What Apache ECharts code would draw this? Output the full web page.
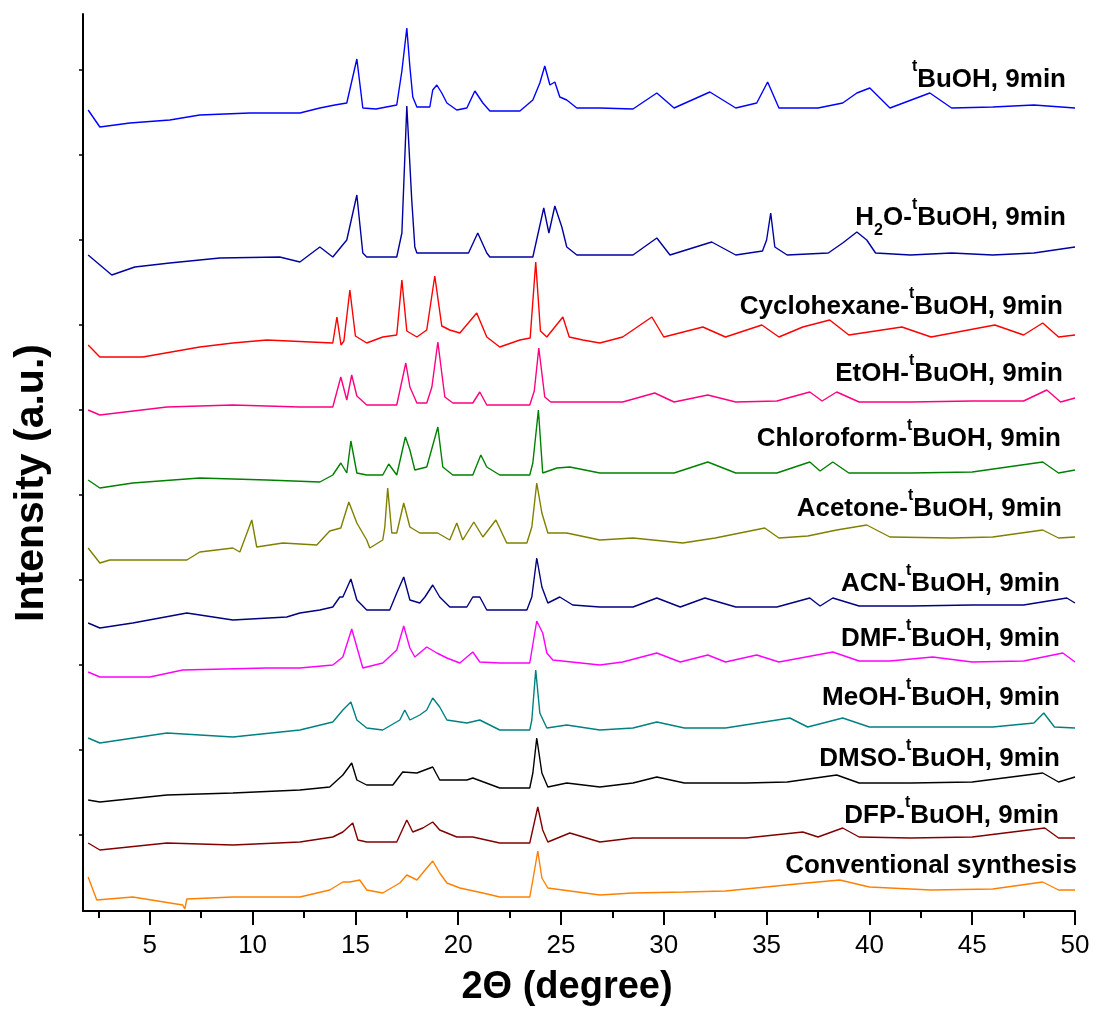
<!DOCTYPE html>
<html>
<head>
<meta charset="utf-8">
<title>XRD patterns</title>
<script src="https://cdn.jsdelivr.net/npm/echarts@6/dist/echarts.min.js"></script>
<style>
  html, body { margin: 0; padding: 0; background: #fff; }
  #chart { width: 1093px; height: 1015px; }
</style>
</head>
<body>
<div id="chart"></div>
<script>
const FONT = 'Arial, "Liberation Sans", sans-serif';

// samples, top to bottom
const sampleNames = ['tBuOH', 'H2O-tBuOH', 'Cyclohexane-tBuOH', 'EtOH-tBuOH', 'Chloroform-tBuOH',
    'Acetone-tBuOH', 'ACN-tBuOH', 'DMF-tBuOH', 'MeOH-tBuOH', 'DMSO-tBuOH', 'DFP-tBuOH', 'Conventional'];
const sampleLabels = ['{sup|t}BuOH, 9min', 'H{sub|2}O-{sup|t}BuOH, 9min', 'Cyclohexane-{sup|t}BuOH, 9min',
    'EtOH-{sup|t}BuOH, 9min', 'Chloroform-{sup|t}BuOH, 9min', 'Acetone-{sup|t}BuOH, 9min',
    'ACN-{sup|t}BuOH, 9min', 'DMF-{sup|t}BuOH, 9min', 'MeOH-{sup|t}BuOH, 9min',
    'DMSO-{sup|t}BuOH, 9min', 'DFP-{sup|t}BuOH, 9min', 'Conventional synthesis'];
const lineColors = ['#0000FF', '#0000A0', '#FF0000', '#FF0080', '#008000', '#808000',
    '#000080', '#FF00FF', '#008080', '#000000', '#800000', '#FF8000'];

// label placement (px): right edge and vertical middle
const labelRight = [1066, 1066, 1063, 1063, 1061, 1062, 1060, 1060, 1060, 1060, 1059, 1077];
const labelMid = [80, 218, 307, 374, 439, 509, 584, 639, 698, 759, 816, 866];

// axis ticks
const xLabelValues = [5, 10, 15, 20, 25, 30, 35, 40, 45, 50];
const xMinorValues = [2.5, 7.5, 12.5, 17.5, 22.5, 27.5, 32.5, 37.5, 42.5, 47.5];
const yTickValues = [76, 161, 246, 331, 416, 501, 586, 671, 756, 841];

// [2theta, stacked intensity (a.u.)]
const tBuOH = [[2.0,801],[2.57,784],[4.03,788],[5.97,791],[7.43,796],[9.86,798],[12.3,798],[13.27,803],
    [14.0,806],[14.58,808],[15.07,852],[15.36,803],[16.0,802],[17.01,806],[17.26,840],[17.5,883],
    [17.65,844],[17.79,814],[17.99,804],[18.62,804],[18.76,821],[18.96,826],[19.2,818],[19.45,808],
    [19.93,801],[20.42,803],[20.81,820],[21.2,808],[21.54,800],[23.0,800],[23.63,811],[23.97,828],
    [24.21,845],[24.46,826],[24.7,829],[24.94,814],[25.28,811],[25.77,803],[26.89,803],[28.5,802],
    [29.66,818],[30.5,803],[32.24,819],[33.5,803],[34.52,808],[35.05,829],[35.6,803],[37.5,803],
    [38.7,808],[39.39,818],[40.02,823],[41.0,803],[42.94,818],[44.0,803],[46.0,804],[48.0,806],[50.0,803]];
const h2oBuOH = [[2.0,656],[3.15,636],[4.27,644],[5.97,648],[8.4,653],[11.32,654],[12.3,649],[13.27,664],
    [13.9,654],[14.58,671],[15.07,716],[15.36,658],[15.55,654],[17.01,654],[17.26,678],[17.5,805],
    [17.74,711],[17.89,664],[17.99,658],[20.5,658],[20.95,678],[21.39,658],[21.54,654],[23.63,654],
    [24.16,703],[24.41,678],[24.7,705],[25.04,684],[25.28,664],[25.77,656],[26.89,656],[28.5,656],
    [29.66,673],[30.3,656],[32.33,669],[33.5,656],[34.8,660],[35.0,671],[35.2,698],[35.4,664],
    [36.0,656],[38.0,658],[38.7,668],[39.39,679],[39.87,671],[40.3,658],[42.0,656],[44.0,658],
    [46.0,656],[48.0,658],[50.0,664]];
const cyclohexane = [[2.0,566],[2.57,554],[4.66,554],[7.43,564],[9.04,568],[10.69,571],[13.9,568],
    [14.1,594],[14.3,566],[14.44,570],[14.73,621],[15.0,575],[15.55,568],[16.33,574],[17.01,576],
    [17.26,631],[17.5,580],[17.99,574],[18.47,581],[18.86,635],[19.2,585],[19.59,581],[20.08,578],
    [20.9,598],[21.39,574],[22.02,564],[23.0,571],[23.5,573],[23.77,649],[24.0,580],[24.31,574],
    [25.09,594],[25.4,574],[26.06,571],[26.89,568],[28.0,574],[29.42,594],[30.0,574],[31.9,584],
    [33.0,574],[34.77,586],[35.6,574],[36.76,584],[38.07,591],[39.0,576],[41.58,584],[43.0,574],
    [46.1,586],[47.5,576],[48.43,588],[49.2,574],[50.0,576]];
const etoh = [[2.0,501],[2.57,496],[5.83,504],[9.04,506],[12.3,504],[13.9,504],[14.29,534],[14.58,511],
    [14.82,536],[15.07,515],[15.55,506],[17.01,506],[17.45,548],[17.65,524],[17.99,508],[18.47,508],
    [18.72,524],[19.01,569],[19.2,538],[19.35,514],[19.74,508],[20.71,508],[21.05,519],[21.39,506],
    [23.48,506],[23.7,520],[23.92,563],[24.21,514],[24.5,509],[26.89,509],[28.0,509],[29.56,518],
    [30.5,509],[32.14,516],[33.5,509],[35.5,510],[37.1,519],[37.7,510],[38.41,519],[39.5,509],
    [42.0,509],[45.0,510],[47.5,510],[48.63,521],[49.3,509],[50.0,513]];
const chloroform = [[2.0,431],[2.57,423],[4.17,428],[7.43,433],[10.69,431],[13.27,429],[13.9,436],
    [14.29,448],[14.58,438],[14.78,470],[15.07,438],[15.55,436],[16.33,436],[16.62,447],[17.01,436],
    [17.43,474],[17.65,461],[17.89,441],[18.47,444],[19.01,484],[19.25,444],[19.74,436],[20.71,436],
    [21.1,456],[21.39,444],[22.02,436],[23.48,436],[23.63,448],[23.9,501],[24.11,438],[24.8,443],
    [25.43,444],[26.89,438],[28.5,438],[30.5,438],[32.14,449],[33.5,438],[35.5,438],[37.1,449],
    [37.6,440],[38.22,449],[39.0,438],[42.0,438],[45.0,439],[48.43,449],[49.2,438],[50.0,441]];
const acetone = [[2.0,363],[2.57,348],[3.05,351],[5.83,351],[6.8,351],[7.43,359],[9.04,363],[9.38,359],
    [9.96,391],[10.2,364],[11.47,368],[13.12,366],[13.75,380],[14.29,383],[14.68,409],[15.07,388],
    [15.55,371],[15.7,363],[16.33,371],[16.43,384],[16.57,423],[16.77,378],[17.01,378],[17.35,408],
    [17.65,384],[18.13,378],[19.0,378],[19.59,371],[19.93,388],[20.22,371],[20.76,389],[21.2,374],
    [21.83,391],[22.36,368],[23.34,368],[23.58,384],[23.82,428],[24.07,398],[24.36,378],[25.28,378],
    [26.89,371],[28.5,373],[30.92,368],[32.5,373],[34.91,383],[35.6,373],[37.0,375],[38.41,381],
    [39.87,386],[41.0,374],[44.0,373],[46.0,374],[48.43,381],[49.2,373],[50.0,374]];
const acn = [[2.0,288],[2.57,283],[4.17,288],[6.8,298],[9.04,291],[11.66,294],[12.3,298],[13.27,301],
    [13.9,304],[14.24,314],[14.39,314],[14.78,332],[15.07,311],[15.55,301],[16.67,301],[17.01,318],
    [17.35,334],[17.65,311],[18.13,308],[18.38,314],[18.76,326],[19.1,314],[19.59,304],[20.42,304],
    [20.71,314],[21.05,314],[21.39,301],[23.34,301],[23.58,314],[23.82,353],[24.07,324],[24.36,308],
    [24.94,314],[25.57,306],[26.89,304],[28.5,304],[29.66,313],[30.8,304],[32.0,313],[33.5,304],
    [35.5,304],[37.1,313],[37.6,305],[38.22,313],[39.5,305],[42.0,305],[45.0,306],[47.5,306],
    [49.6,313],[50.0,308]];
const dmf = [[2.0,239],[2.57,234],[5.0,234],[6.6,241],[10.69,243],[12.3,243],[13.9,246],[14.39,254],
    [14.82,282],[15.36,243],[16.33,248],[17.01,261],[17.35,285],[17.65,263],[17.89,254],[18.47,264],
    [18.96,258],[19.45,253],[20.08,248],[20.71,259],[21.05,249],[22.02,248],[23.48,248],[23.82,290],
    [24.11,278],[24.31,258],[24.6,251],[26.89,246],[28.0,249],[29.66,258],[30.8,249],[32.14,256],
    [33.0,249],[34.52,256],[35.6,249],[38.22,259],[39.5,250],[41.0,250],[43.08,254],[45.0,249],
    [47.5,250],[49.41,258],[50.0,249]];
const meoh = [[2.0,173],[2.57,168],[5.83,178],[9.04,174],[12.3,181],[13.9,189],[14.39,201],[14.78,209],
    [15.07,191],[15.55,183],[16.33,181],[17.16,191],[17.4,201],[17.65,191],[18.13,196],[18.47,201],
    [18.76,213],[19.1,204],[19.45,191],[20.42,188],[21.05,191],[22.02,181],[23.48,181],[23.58,191],
    [23.77,241],[23.97,198],[24.31,183],[25.28,186],[26.89,181],[28.5,183],[29.66,189],[31.0,183],
    [33.0,183],[36.13,193],[37.0,184],[38.7,193],[40.0,184],[43.0,184],[46.0,184],[48.0,188],
    [48.48,198],[49.0,184],[50.0,183]];
const dmso = [[2.0,111],[2.57,109],[5.83,116],[9.04,118],[12.3,121],[13.75,124],[14.39,136],[14.82,148],
    [15.07,131],[15.55,126],[16.82,126],[17.3,139],[17.99,138],[18.76,144],[19.1,131],[20.42,131],
    [20.71,133],[22.02,123],[23.48,123],[23.63,138],[23.82,173],[24.07,138],[24.36,124],[25.28,128],
    [26.89,124],[28.5,128],[29.66,134],[31.0,128],[34.0,128],[36.0,129],[38.41,136],[39.5,128],
    [42.0,128],[45.0,129],[48.43,138],[49.2,129],[50.0,134]];
const dfp = [[2.0,68],[2.57,61],[5.83,68],[9.04,66],[12.3,69],[13.9,74],[14.39,79],[14.87,88],
    [15.12,71],[15.55,69],[17.01,69],[17.5,91],[17.79,79],[18.28,83],[18.76,89],[19.1,81],[19.93,74],
    [20.71,74],[22.02,68],[23.48,68],[23.87,104],[24.11,81],[24.36,69],[25.43,78],[26.89,69],
    [28.5,73],[31.0,73],[34.0,73],[36.76,79],[37.5,74],[38.7,83],[39.5,74],[42.0,73],[45.0,74],
    [48.53,83],[49.2,73],[50.0,73]];
const conventional = [[2.0,34],[2.42,11],[4.17,14],[6.6,6],[6.7,2],[6.8,12],[9.04,14],[12.3,14],
    [13.75,21],[14.39,29],[14.73,29],[15.21,31],[15.55,21],[16.33,18],[17.16,28],[17.5,36],[17.99,31],
    [18.47,43],[18.76,50],[19.1,38],[19.45,28],[20.08,23],[21.2,18],[22.02,14],[23.48,14],[23.63,31],
    [23.87,60],[24.07,33],[24.36,23],[26.89,16],[28.5,18],[31.0,19],[33.0,20],[36.95,28],[38.56,31],
    [40.0,24],[43.0,21],[46.0,22],[48.43,29],[49.2,21],[50.0,21]];

const patterns = [tBuOH, h2oBuOH, cyclohexane, etoh, chloroform, acetone, acn, dmf, meoh, dmso, dfp, conventional];

const chart = echarts.init(document.getElementById('chart'));

const richStyles = {
    sup: { fontSize: 16, fontWeight: 'bold', fontFamily: FONT, verticalAlign: 'top', padding: [0, 0, 26, 0] },
    sub: { fontSize: 16, fontWeight: 'bold', fontFamily: FONT, verticalAlign: 'bottom', padding: [26, 0, 0, 0] }
};

const option = {
    animation: false,
    backgroundColor: '#ffffff',
    grid: { left: 83, right: 18, top: 14, bottom: 104, outerBoundsMode: 'none' },
    xAxis: [{
        type: 'value',
        min: 1.75,
        max: 50,
        axisLine: { lineStyle: { color: '#000', width: 2 } },
        axisTick: { customValues: xLabelValues, length: 14, lineStyle: { color: '#000', width: 2 } },
        axisLabel: { customValues: xLabelValues, margin: 22, color: '#000', fontSize: 26, fontFamily: FONT },
        splitLine: { show: false }
    }, {
        type: 'value',
        min: 1.75,
        max: 50,
        position: 'bottom',
        axisLine: { show: false },
        axisTick: { customValues: xMinorValues, length: 7, lineStyle: { color: '#000', width: 2 } },
        axisLabel: { show: false },
        splitLine: { show: false }
    }],
    yAxis: {
        type: 'value',
        min: 0,
        max: 897,
        axisLine: { show: true, lineStyle: { color: '#000', width: 2 } },
        axisTick: { show: true, customValues: yTickValues, length: 4, lineStyle: { color: '#000', width: 1.5 } },
        axisLabel: { show: false },
        splitLine: { show: false }
    },
    graphic: [
        {
            type: 'text', x: 32, y: 483, rotation: Math.PI / 2,
            style: { text: 'Intensity (a.u.)', fontSize: 41, fontWeight: 'bold', fontFamily: FONT,
                fill: '#000', align: 'center', verticalAlign: 'middle' }
        },
        {
            type: 'text', x: 567, y: 988,
            style: { text: '2\u0398 (degree)', fontSize: 38, fontWeight: 'bold', fontFamily: FONT,
                fill: '#000', align: 'center', verticalAlign: 'middle' }
        }
    ].concat(sampleLabels.map((txt, i) => ({
        type: 'text', x: labelRight[i], y: labelMid[i],
        style: { text: txt, fontSize: 26, fontWeight: 'bold', fontFamily: FONT, fill: '#000',
            align: 'right', verticalAlign: 'middle', rich: richStyles }
    }))),
    series: patterns.map((pts, i) => ({
        name: sampleNames[i],
        type: 'line',
        data: pts,
        showSymbol: false,
        symbol: 'none',
        smooth: false,
        lineStyle: { color: lineColors[i], width: 1.4 },
        itemStyle: { color: lineColors[i] },
        z: 2
    }))
};

chart.setOption(option);
</script>
</body>
</html>
